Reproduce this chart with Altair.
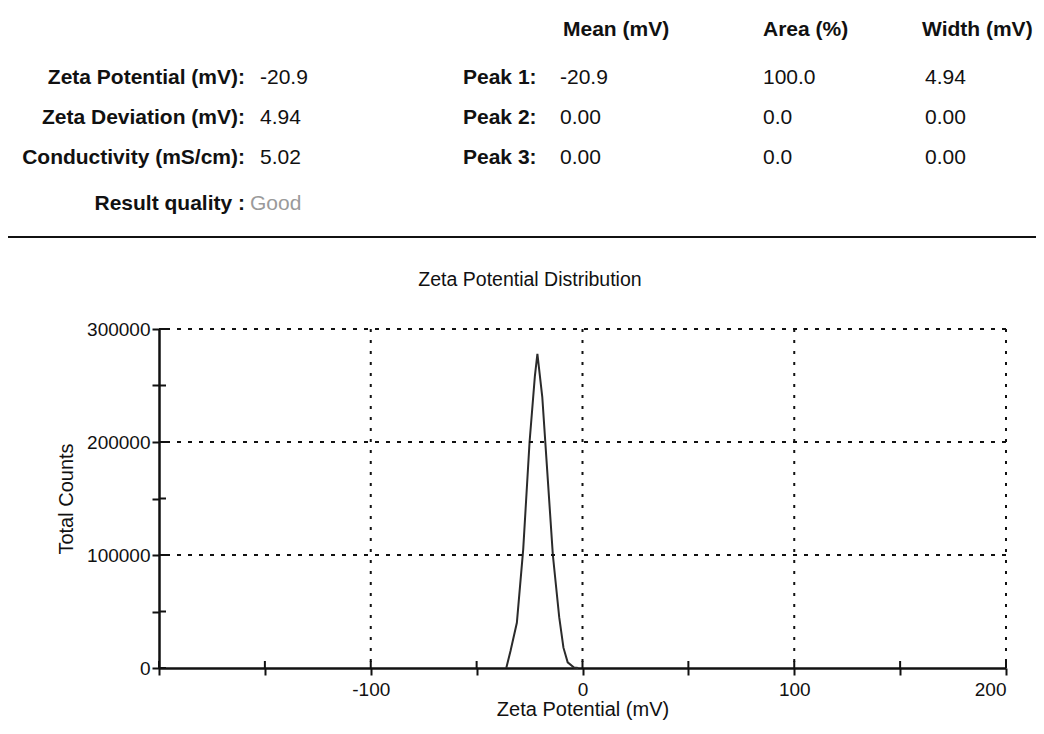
import altair as alt
import pandas as pd

# ---------------- data ----------------
zeta_mv = [-36, -34, -31, -28, -25, -22.5, -21.3, -19, -17, -14, -11, -9, -7, -4, -2]
total_counts = [0, 15000, 40000, 105000, 200000, 258000, 278000, 240000, 184000,
                100000, 45000, 18000, 5000, 500, 0]

x_ticks = [-200, -150, -100, -50, 0, 50, 100, 150, 200]
y_ticks = [0, 50000, 100000, 150000, 200000, 250000, 300000]
x_grid = [-100, 0, 100, 200]
y_grid = [100000, 200000, 300000]

summary_labels = ["Zeta Potential (mV):", "Zeta Deviation (mV):", "Conductivity (mS/cm):"]
summary_values = ["-20.9", "4.94", "5.02"]
quality_label = "Result quality :"
quality_value = "Good"
column_headers = ["Mean (mV)", "Area (%)", "Width (mV)"]
peak_labels = ["Peak 1:", "Peak 2:", "Peak 3:"]
peak_mean = ["-20.9", "0.00", "0.00"]
peak_area = ["100.0", "0.0", "0.0"]
peak_width = ["4.94", "0.00", "0.00"]

chart_title = "Zeta Potential Distribution"
x_title = "Zeta Potential (mV)"
y_title = "Total Counts"

# ---------------- layout ----------------
W, H = 847, 339
OX, OY = 159, 329          # plot origin in page pixels
FONT = "Liberation Sans"
INK = "#111111"

def px(x):
    return x - OX

def py(y):
    return y - OY

xscale = alt.Scale(domain=[-200, 200], nice=False, zero=False)
yscale = alt.Scale(domain=[0, 300000], nice=False)

x_axis = alt.Axis(
    values=x_ticks, grid=False,
    labelExpr="(datum.value % 100 == 0 && datum.value > -200) ? ('' + datum.value) : ''",
    tickSize=7, tickWidth=2, tickColor=INK, domainColor=INK, domainWidth=2.5,
    labelFont=FONT, labelFontSize=19, labelColor=INK, labelPadding=5,
    titleFont=FONT, titleFontSize=20, titleFontWeight="normal", titleColor=INK,
    titlePadding=0,
)
y_axis = alt.Axis(
    values=y_ticks, grid=False,
    labelExpr="(datum.value % 100000 == 0) ? ('' + datum.value) : ''",
    tickSize=7, tickWidth=2, tickColor=INK, domainColor=INK, domainWidth=2.5,
    labelFont=FONT, labelFontSize=19, labelColor=INK, labelPadding=2,
    titleFont=FONT, titleFontSize=20, titleFontWeight="normal", titleColor=INK,
    titlePadding=10,
)

def X(field):
    return alt.X(field, scale=xscale, axis=x_axis, title=x_title)

def Y(field):
    return alt.Y(field, scale=yscale, axis=y_axis, title=y_title)

curve_df = pd.DataFrame({"zeta": zeta_mv, "counts": total_counts})

vgrid = alt.Chart(pd.DataFrame({"zeta": x_grid})).mark_rule(
    color=INK, strokeWidth=2, strokeDash=[3, 8]
).encode(x=X("zeta:Q"))

hgrid = alt.Chart(pd.DataFrame({"counts": y_grid})).mark_rule(
    color=INK, strokeWidth=2, strokeDash=[4, 7]
).encode(y=Y("counts:Q"))

xin = alt.Chart(pd.DataFrame({"zeta": x_ticks})).mark_rule(color=INK, strokeWidth=2).encode(
    x=X("zeta:Q"), y=alt.value(H), y2=alt.value(H - 7)
)
yin = alt.Chart(pd.DataFrame({"counts": y_ticks})).mark_rule(color=INK, strokeWidth=2).encode(
    y=Y("counts:Q"), x=alt.value(0), x2=alt.value(7)
)

curve = alt.Chart(curve_df).mark_line(color="#2b2b2b", strokeWidth=2).encode(
    x=X("zeta:Q"), y=Y("counts:Q")
)

def txt(s, x, y, bold=False, align="left", color=INK, size=21):
    return alt.Chart(pd.DataFrame({"s": [s]})).mark_text(
        font=FONT, fontSize=size, fontWeight="bold" if bold else "normal",
        align=align, baseline="middle", color=color,
    ).encode(text="s:N", x=alt.value(px(x)), y=alt.value(py(y)))

texts = []
row_y = [78, 118, 158]
for lab, val, yy in zip(summary_labels, summary_values, row_y):
    texts.append(txt(lab, 245, yy, bold=True, align="right"))
    texts.append(txt(val, 260, yy))
texts.append(txt(quality_label, 245, 204, bold=True, align="right"))
texts.append(txt(quality_value, 250, 204, color="#9a9a9a"))

col_x = [563, 763, 922]
for h, cx in zip(column_headers, col_x):
    texts.append(txt(h, cx, 30, bold=True))
for i, yy in enumerate(row_y):
    texts.append(txt(peak_labels[i], 463, yy, bold=True))
    texts.append(txt(peak_mean[i], 560, yy))
    texts.append(txt(peak_area[i], 763, yy))
    texts.append(txt(peak_width[i], 925, yy))

texts.append(txt(chart_title, 530, 280, align="center", size=19.5))

sep = alt.Chart(pd.DataFrame({"a": [0]})).mark_rule(color=INK, strokeWidth=2).encode(
    x=alt.value(px(0)), x2=alt.value(px(1036)), y=alt.value(py(237))
)

chart = alt.layer(curve, vgrid, hgrid, xin, yin, sep, *texts).properties(
    width=W, height=H,
    autosize=alt.AutoSizeParams(type="none"),
    padding={"left": OX - 8, "top": OY - 8, "right": 30, "bottom": 54},
    background="white",
).configure_view(stroke=None)

chart.save("out.html", embed_options={"renderer": "svg", "actions": False})
